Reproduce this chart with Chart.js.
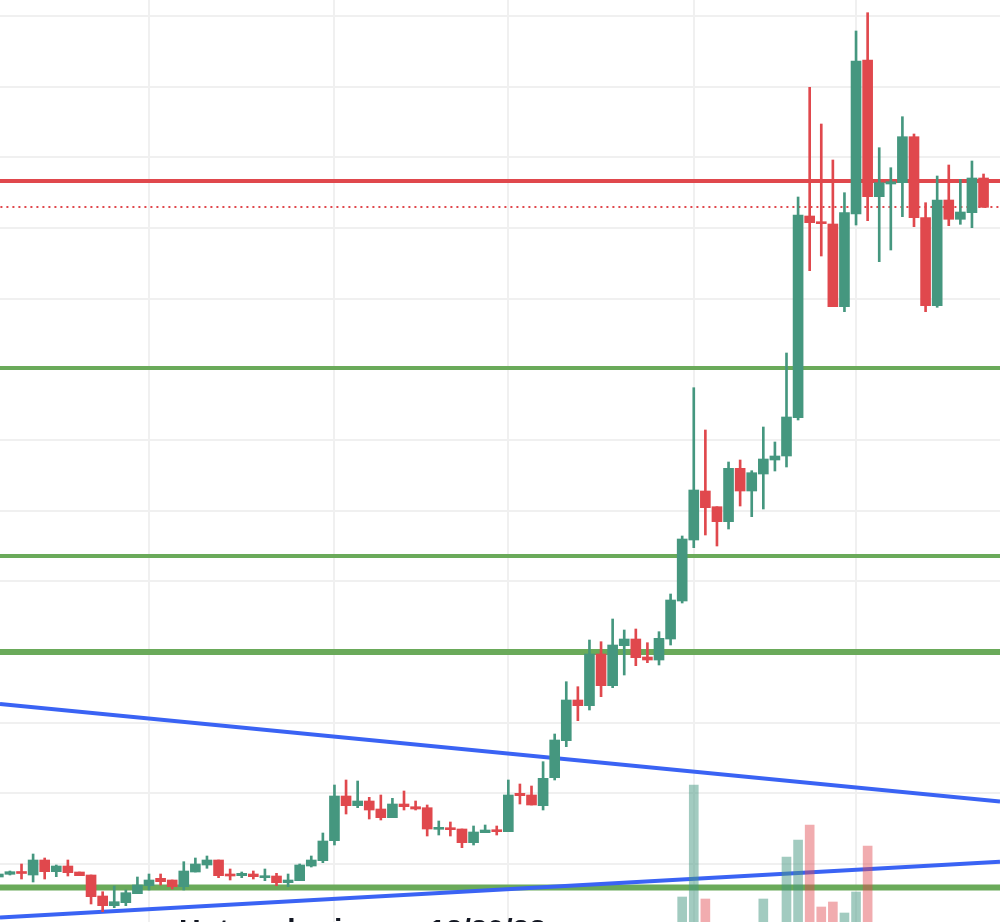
<!DOCTYPE html>
<html lang="en">
<head>
<meta charset="UTF-8">
<title>Candles</title>
<script src="https://cdn.jsdelivr.net/npm/chart.js"></script>
<style>
  html, body { margin: 0; padding: 0; background: #fff; overflow: hidden; }
  #wrap { position: relative; width: 1000px; height: 960px; }
  #caption {
    position: absolute; left: 179px; top: 915px;
    font: bold 30px "Liberation Sans", Arial, sans-serif; color: #131722;
    white-space: nowrap; line-height: 30px;
  }
</style>
</head>
<body>
<div id="wrap">
  <canvas id="chart"></canvas>
  <div id="caption">Hot scalp rise on 12/20/23</div>
</div>
<script>
// OHLC per candle (index 0..85)
const opens = [0.45, 0.477, 0.50, 0.47, 0.62, 0.503, 0.56, 0.50, 0.47, 0.26,
  0.163, 0.193, 0.283, 0.363, 0.437, 0.42, 0.353, 0.50, 0.57, 0.62,
  0.48, 0.463, 0.48, 0.443, 0.46, 0.393, 0.413, 0.56, 0.613, 0.813,
  1.26, 1.163, 1.21, 1.13, 1.043, 1.18, 1.153, 1.143, 0.927, 0.937,
  0.93, 0.793, 0.893, 0.92, 0.903, 1.287, 1.27, 1.163, 1.443, 1.813,
  2.22, 2.163, 2.68, 2.363, 2.763, 2.83, 2.65, 2.62, 2.83, 3.21,
  3.82, 4.31, 4.153, 4.003, 4.537, 4.31, 4.48, 4.62, 4.66, 5.043,
  7.06, 7.003, 6.98, 6.153, 7.08, 8.62, 7.253, 7.38, 7.393, 7.853,
  7.043, 6.163, 7.22, 7.027, 7.093, 7.44];
const highs = [0.49, 0.51, 0.58, 0.68, 0.64, 0.57, 0.62, 0.50, 0.47, 0.303,
  0.36, 0.32, 0.45, 0.48, 0.48, 0.42, 0.603, 0.64, 0.66, 0.62,
  0.53, 0.50, 0.51, 0.53, 0.487, 0.48, 0.58, 0.66, 0.89, 1.37,
  1.42, 1.41, 1.247, 1.27, 1.237, 1.31, 1.21, 1.17, 1.01, 1.00,
  0.93, 0.96, 0.97, 0.96, 1.42, 1.38, 1.36, 1.603, 1.88, 2.403,
  2.353, 2.82, 2.803, 3.03, 2.92, 2.93, 2.793, 2.903, 3.28, 3.86,
  5.343, 4.92, 4.153, 4.60, 4.62, 4.513, 4.95, 4.80, 5.69, 7.25,
  8.347, 7.98, 7.62, 7.293, 8.91, 9.093, 7.743, 7.543, 8.053, 7.88,
  7.193, 7.46, 7.57, 7.427, 7.61, 7.48];
const lows = [0.44, 0.47, 0.43, 0.40, 0.43, 0.453, 0.46, 0.463, 0.18, 0.103,
  0.143, 0.163, 0.283, 0.32, 0.37, 0.33, 0.32, 0.50, 0.537, 0.443,
  0.42, 0.443, 0.43, 0.413, 0.363, 0.353, 0.413, 0.55, 0.593, 0.77,
  1.08, 1.143, 1.03, 1.02, 1.043, 1.12, 1.12, 0.86, 0.87, 0.86,
  0.743, 0.77, 0.893, 0.87, 0.903, 1.18, 1.17, 1.12, 1.42, 1.753,
  2.013, 2.12, 2.253, 2.343, 2.47, 2.563, 2.593, 2.57, 2.77, 3.19,
  3.743, 3.87, 3.76, 3.93, 4.16, 4.053, 4.13, 4.51, 4.55, 5.02,
  6.513, 6.66, 6.153, 6.103, 6.97, 7.013, 6.603, 6.72, 7.053, 6.953,
  6.103, 6.147, 6.963, 6.977, 6.943, 7.147];
const closes = [0.48, 0.503, 0.485, 0.62, 0.503, 0.56, 0.493, 0.463, 0.253, 0.163,
  0.203, 0.293, 0.37, 0.42, 0.403, 0.353, 0.51, 0.58, 0.62, 0.463,
  0.46, 0.487, 0.453, 0.463, 0.393, 0.42, 0.57, 0.62, 0.81, 1.26,
  1.163, 1.21, 1.12, 1.043, 1.18, 1.153, 1.13, 0.93, 0.947, 0.923,
  0.793, 0.90, 0.92, 0.903, 1.27, 1.263, 1.17, 1.437, 1.82, 2.22,
  2.163, 2.68, 2.363, 2.77, 2.83, 2.643, 2.62, 2.837, 3.22, 3.83,
  4.32, 4.143, 4.003, 4.537, 4.31, 4.493, 4.63, 4.66, 5.05, 7.07,
  6.993, 6.983, 6.153, 7.093, 8.61, 7.253, 7.393, 7.403, 7.853, 7.043,
  6.163, 7.22, 7.027, 7.10, 7.44, 7.147];
const volumes = [12, 9, 14, 22, 18, 10, 13, 8, 26, 21,
  17, 15, 14, 12, 9, 10, 19, 16, 12, 15,
  8, 7, 9, 8, 11, 9, 18, 14, 24, 33,
  22, 20, 14, 15, 13, 11, 9, 20, 10, 9,
  15, 13, 8, 9, 30, 14, 12, 27, 30, 34,
  18, 32, 25, 30, 17, 19, 11, 22, 31, 63,
  175, 61, 30, 35, 24, 28, 61, 22, 103, 120,
  135, 53, 58, 47, 68, 114, 30, 22, 28, 32,
  26, 27, 18, 14, 20, 12];

// level lines (price) and trend lines (start, end)
const resistance = 7.41;
const lastPrice = 7.15;
const supports = [5.54, 3.66, 2.70, 0.345];
const trendUpper = [2.18, 1.205];
const trendLower = [0.045, 0.602];

// axis ranges and grid positions
const xMin = 0.144, xMax = 86.42;
const yMin = -0.38, yMax = 9.22;
const xTicks = [13, 29, 44, 60, 74];
const yGrid = [0.58, 1.287, 1.993, 2.70, 3.407, 4.113, 4.82, 5.527, 6.233, 6.94, 7.647, 8.353, 9.06];

const up = '#45977f';
const down = '#e0484d';
const upVol = 'rgba(69,151,129,0.5)';
const downVol = 'rgba(224,72,77,0.45)';
const greenLine = '#6aaa5a';
const blueLine = '#3a63f4';

const isUp = opens.map((o, i) => closes[i] >= o);

function hline(value, color, width, dash) {
  return {
    type: 'line',
    data: [{ x: xMin - 1, y: value }, { x: xMax + 1, y: value }],
    borderColor: color,
    borderWidth: width,
    borderDash: dash || [],
    pointRadius: 0,
    order: 5
  };
}

const datasets = [
  {
    type: 'bar',
    label: 'volume',
    yAxisID: 'vol',
    data: volumes.map((v, i) => ({ x: i, y: v })),
    backgroundColor: isUp.map(u => u ? upVol : downVol),
    barThickness: 9,
    grouped: false,
    order: 1
  },
  {
    type: 'bar',
    label: 'body',
    data: opens.map((o, i) => ({ x: i, y: [o, closes[i]] })),
    backgroundColor: isUp.map(u => u ? up : down),
    barThickness: 10,
    grouped: false,
    minBarLength: 2,
    order: 2
  },
  {
    type: 'bar',
    label: 'wick',
    data: lows.map((l, i) => ({ x: i, y: [l, highs[i]] })),
    backgroundColor: isUp.map(u => u ? up : down),
    barThickness: 2,
    grouped: false,
    order: 3
  },
  {
    type: 'line',
    data: [{ x: xMin, y: trendUpper[0] }, { x: xMax, y: trendUpper[1] }],
    borderColor: blueLine, borderWidth: 4, pointRadius: 0, order: 4
  },
  {
    type: 'line',
    data: [{ x: xMin, y: trendLower[0] }, { x: xMax, y: trendLower[1] }],
    borderColor: blueLine, borderWidth: 4, pointRadius: 0, order: 4
  },
  hline(resistance, down, 4),
  hline(lastPrice, down, 2, [2, 4]),
  hline(supports[0], greenLine, 4),
  hline(supports[1], greenLine, 4),
  hline(supports[2], greenLine, 6),
  hline(supports[3], greenLine, 6)
];

const gridStyle = { color: '#f0f0f0', lineWidth: 2, drawTicks: false, offset: false };

new Chart(document.getElementById('chart'), {
  type: 'bar',
  data: { datasets: datasets },
  options: {
    responsive: true,
    maintainAspectRatio: false,
    animation: false,
    devicePixelRatio: 1,
    layout: { padding: 0 },
    plugins: { legend: { display: false }, tooltip: { enabled: false } },
    scales: {
      x: {
        type: 'linear', min: xMin, max: xMax, offset: false,
        afterBuildTicks: s => { s.ticks = xTicks.map(v => ({ value: v })); },
        grid: gridStyle, border: { display: false }, ticks: { display: false }
      },
      y: {
        min: yMin, max: yMax,
        afterBuildTicks: s => { s.ticks = yGrid.map(v => ({ value: v })); },
        grid: gridStyle, border: { display: false }, ticks: { display: false }
      },
      vol: { display: false, min: 0, max: 960 }
    }
  }
});
</script>
</body>
</html>
